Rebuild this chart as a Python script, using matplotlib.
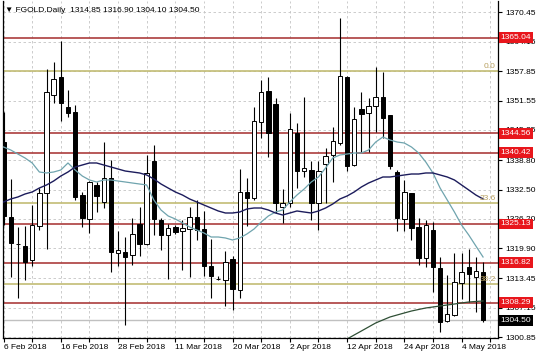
import matplotlib
matplotlib.use("Agg")
import matplotlib.pyplot as plt

# daily OHLC, 6 Feb 2018 .. 7 May 2018
opens = [1342.67, 1326.61, 1320.90, 1320.40, 1317.41, 1324.69, 1331.75, 1352.74, 1356.59, 1350.17,
         1349.10, 1331.32, 1326.19, 1333.47, 1329.83, 1334.96, 1318.91, 1319.12, 1318.48, 1325.11,
         1320.83, 1338.61, 1325.97, 1322.76, 1324.47, 1323.62, 1324.04, 1326.61, 1324.04, 1316.12,
         1313.30, 1313.12, 1317.62, 1310.98, 1331.97, 1330.68, 1346.96, 1353.59, 1350.81, 1328.76,
         1329.61, 1344.60, 1336.46, 1336.68, 1329.61, 1337.96, 1339.89, 1342.46, 1356.59, 1337.75,
         1349.74, 1348.88, 1350.38, 1352.31, 1348.46, 1336.25, 1326.19, 1331.75, 1324.47, 1317.83,
         1323.83, 1315.69, 1304.34, 1305.63, 1312.48, 1315.91, 1313.77, 1314.85]
highs = [1349.10, 1334.75, 1324.47, 1324.69, 1329.18, 1332.82, 1358.31, 1359.80, 1364.30, 1353.81,
         1350.60, 1331.97, 1334.30, 1334.11, 1342.67, 1338.82, 1323.62, 1322.33, 1326.40, 1328.76,
         1339.89, 1342.03, 1326.40, 1325.11, 1324.90, 1325.97, 1328.76, 1330.25, 1327.90, 1321.90,
         1313.98, 1319.33, 1318.26, 1336.89, 1334.96, 1350.17, 1355.95, 1356.59, 1352.10, 1332.61,
         1348.88, 1346.74, 1352.31, 1338.61, 1338.61, 1341.39, 1345.89, 1369.23, 1356.81, 1350.17,
         1353.38, 1352.10, 1358.73, 1357.66, 1348.50, 1336.68, 1334.54, 1331.80, 1326.40, 1325.97,
         1325.54, 1318.05, 1314.19, 1318.91, 1318.91, 1319.76, 1318.05, 1316.90]
lows = [1324.90, 1313.77, 1309.27, 1313.12, 1316.12, 1323.83, 1319.76, 1351.02, 1347.17, 1348.03,
        1330.25, 1324.47, 1323.19, 1327.68, 1328.54, 1314.84, 1316.12, 1303.49, 1316.34, 1318.26,
        1320.62, 1322.76, 1319.55, 1313.34, 1322.97, 1315.26, 1313.77, 1321.69, 1313.98, 1309.27,
        1313.12, 1307.56, 1306.70, 1309.27, 1324.69, 1330.25, 1343.53, 1339.46, 1327.47, 1325.33,
        1328.76, 1332.82, 1335.18, 1325.97, 1323.83, 1329.61, 1334.11, 1342.03, 1336.46, 1337.53,
        1340.53, 1340.53, 1344.81, 1343.53, 1336.89, 1323.62, 1323.62, 1321.69, 1316.34, 1315.91,
        1310.55, 1301.99, 1304.13, 1305.41, 1309.06, 1308.41, 1306.27, 1304.10]
closes = [1326.83, 1321.05, 1320.80, 1316.98, 1324.90, 1331.75, 1353.38, 1356.16, 1351.02, 1348.88,
          1330.90, 1326.40, 1334.11, 1331.11, 1334.96, 1319.12, 1319.55, 1318.05, 1322.97, 1320.83,
          1336.04, 1326.19, 1322.76, 1324.26, 1323.40, 1324.26, 1326.61, 1323.83, 1316.12, 1313.98,
          1313.23, 1316.98, 1311.20, 1331.97, 1330.68, 1347.17, 1353.38, 1344.60, 1329.61, 1329.61,
          1345.46, 1336.46, 1337.11, 1329.61, 1336.46, 1339.68, 1342.89, 1356.81, 1337.53, 1347.60,
          1348.67, 1350.38, 1352.31, 1347.81, 1337.53, 1326.40, 1331.97, 1324.26, 1317.83, 1324.90,
          1315.91, 1304.13, 1305.84, 1312.70, 1314.84, 1314.41, 1315.05, 1304.50]

# moving averages as drawn on the chart
ma_fast = [1341.60, 1340.96, 1340.10, 1339.25, 1338.18, 1336.25, 1336.04, 1336.25, 1336.68, 1338.18,
           1336.68, 1335.39, 1334.54, 1334.11, 1334.54, 1334.54, 1334.32, 1334.11, 1333.89, 1333.68,
           1333.47, 1330.25, 1328.11, 1326.83, 1326.19, 1325.33, 1324.47, 1323.83, 1323.19, 1322.33,
           1322.33, 1322.12, 1321.69, 1322.12, 1322.97, 1324.04, 1325.54, 1326.83, 1327.68, 1328.11,
           1329.83, 1331.32, 1332.61, 1334.11, 1335.18, 1337.11, 1339.25, 1339.89, 1340.10, 1340.32,
           1340.32, 1340.96, 1342.67, 1343.74, 1343.10, 1342.67, 1342.46, 1341.60, 1340.32, 1338.39,
           1336.04, 1332.82, 1330.25, 1327.68, 1324.90, 1322.76, 1320.40, 1318.05]
ma_slow = [1329.83, 1330.47, 1330.90, 1331.54, 1331.97, 1332.82, 1333.47, 1334.32, 1335.39, 1336.25,
           1337.32, 1337.75, 1338.18, 1338.18, 1337.75, 1337.32, 1336.89, 1336.46, 1336.25, 1336.04,
           1335.61, 1334.75, 1333.68, 1332.82, 1331.97, 1331.32, 1330.47, 1329.83, 1329.18, 1328.54,
           1327.90, 1327.47, 1327.47, 1327.68, 1328.33, 1328.54, 1328.54, 1328.11, 1327.47, 1327.04,
           1327.47, 1327.90, 1327.68, 1327.47, 1327.90, 1328.54, 1329.40, 1330.47, 1331.11, 1331.97,
           1333.04, 1333.89, 1334.54, 1335.18, 1335.18, 1335.39, 1335.61, 1335.82, 1335.82, 1336.04,
           1336.04, 1335.61, 1335.18, 1334.54, 1333.47, 1332.40, 1331.32, 1330.47]
ma_long_start = 47
ma_long = [1299.85, 1300.49, 1301.35, 1302.20, 1303.06, 1303.92, 1304.56, 1305.20, 1305.63, 1306.06,
           1306.48, 1306.81, 1307.13, 1307.34, 1307.56, 1307.77, 1307.98, 1308.20, 1308.41, 1308.52,
           1308.63]

levels = [1365.04, 1344.56, 1340.42, 1325.13, 1316.82, 1308.29]
fib_values = [1357.80, 1329.66, 1312.26]
fib_names = ["0.0", "23.6", "38.2"]
bid = 1304.50

ytick_vals = [1370.45, 1364.15, 1357.85, 1351.55, 1345.25, 1338.80, 1332.50, 1326.20,
              1319.90, 1313.45, 1307.15, 1300.85]
date_pos = [0, 8, 16, 24, 32, 40, 48, 56, 64]
date_labels = ["6 Feb 2018", "16 Feb 2018", "28 Feb 2018", "11 Mar 2018", "20 Mar 2018",
               "2 Apr 2018", "12 Apr 2018", "24 Apr 2018", "4 May 2018"]

plt.rcParams['font.family'] = ['Liberation Sans', 'DejaVu Sans']

fig = plt.figure(figsize=(5.36, 3.57), dpi=100)
ax = fig.add_axes([3 / 536, 19 / 357, 495 / 536, 337 / 357])

n = len(opens)
xs = list(range(n))

# grid
ax.set_axisbelow(True)
for v in ytick_vals:
    ax.axhline(v, color='#c4c4c4', lw=0.6, ls=(0, (3, 3)), zorder=0)
for i in range(0, 70, 4):
    ax.axvline(i, color='#c4c4c4', lw=0.6, ls=(0, (3, 3)), zorder=0)

# levels
ax.axhline(bid, color='#c0c0c0', lw=1.0, zorder=1)
for lv in levels:
    ax.axhline(lv, color='#a83434', lw=1.15, zorder=1)
for fv, name in zip(fib_values, fib_names):
    ax.axhline(fv, color='#c2bc74', lw=1.2, zorder=1)
    ax.text(68.8, fv + 0.2, name, ha='right', va='bottom', fontsize=6, color='#b8a060', zorder=6)

# candles
ax.vlines(xs, lows, highs, color='black', lw=0.8, zorder=3)
bottoms = [min(o, c) for o, c in zip(opens, closes)]
heights = [max(abs(c - o), 0.12) for o, c in zip(opens, closes)]
faces = ['white' if c > o else 'black' for o, c in zip(opens, closes)]
ax.bar(xs, heights, bottom=bottoms, width=0.62, color=faces, edgecolor='black',
       linewidth=0.7, zorder=4)

# moving averages
ax.plot(xs, ma_fast, color='#6fa4ae', lw=0.9, zorder=5)
ax.plot(xs, ma_slow, color='#1c1c5c', lw=1.0, zorder=5)
ax.plot(range(ma_long_start, ma_long_start + len(ma_long)), ma_long, color='#2f4f35', lw=0.9, zorder=5)

ax.set_xlim(-0.08, 69.09)
ax.set_ylim(1300.70, 1372.87)

# axes
ax.spines['top'].set_visible(False)
for s in ['left', 'right', 'bottom']:
    ax.spines[s].set_color('black')
    ax.spines[s].set_linewidth(0.9)

ax.yaxis.tick_right()
ax.set_yticks(ytick_vals)
ax.set_yticklabels([f"{v:.2f}" for v in ytick_vals])
ax.tick_params(axis='y', length=3, width=0.8, pad=2, labelsize=6)

ax.set_xticks(date_pos)
ax.set_xticklabels(date_labels, ha='left')
ax.set_xticks([4, 12, 20, 28, 36, 44, 52, 60, 68], minor=True)
ax.tick_params(axis='x', which='major', length=3, width=0.8, pad=1, labelsize=6)
ax.tick_params(axis='x', which='minor', length=3, width=0.8)

# price labels on the right axis
for lv in levels:
    ax.text(1.005, lv, f"{lv:.2f}", transform=ax.get_yaxis_transform(), ha='left', va='center',
            fontsize=6, color='white', zorder=10, clip_on=False,
            bbox=dict(boxstyle='square,pad=0.22', fc='#e8161c', ec='none'))
ax.text(1.005, bid, f"{bid:.2f}", transform=ax.get_yaxis_transform(), ha='left', va='center',
        fontsize=6, color='white', zorder=10, clip_on=False,
        bbox=dict(boxstyle='square,pad=0.22', fc='black', ec='none'))

fig.text(5 / 536, 1 - 10 / 357, "\u25bc FGOLD.Daily  1314.85 1316.90 1304.10 1304.50",
         fontsize=6, va='center', ha='left')

fig.savefig("out.png", dpi=100)
